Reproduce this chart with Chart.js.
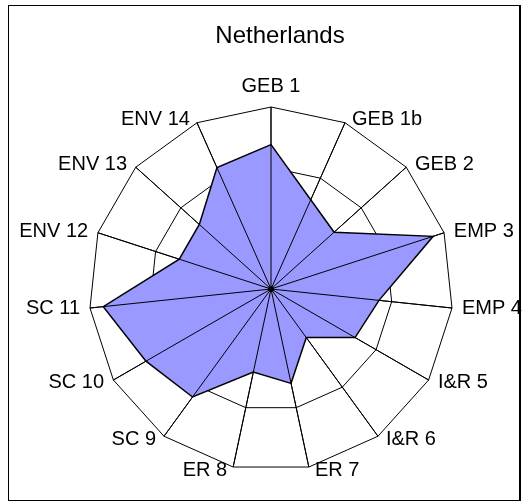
<!DOCTYPE html>
<html>
<head>
<meta charset="utf-8">
<script src="https://cdn.jsdelivr.net/npm/chart.js@4.4.0/dist/chart.umd.min.js"></script>
<style>
  html, body { margin: 0; padding: 0; background: #fff; }
  #wrap { position: relative; width: 522px; height: 503px; overflow: hidden; }
  #c { position: absolute; left: 0; top: 0; }
  #frame { position: absolute; left: 8px; top: 5px; width: 513px; height: 496px; box-sizing: border-box;
           border: 1px solid #000; border-right-width: 2px; pointer-events: none; }
</style>
</head>
<body>
<div id="wrap">
  <canvas id="c" width="522" height="503"></canvas>
  <div id="frame"></div>
</div>
<script>
const chartTitle = 'Netherlands';
const categories = ['GEB 1', 'GEB 1b', 'GEB 2', 'EMP 3', 'EMP 4', 'I&R 5', 'I&R 6', 'ER 7', 'ER 8', 'SC 9', 'SC 10', 'SC 11', 'ENV 12', 'ENV 13', 'ENV 14'];
const seriesValues = [2.38, 1.61, 1.40, 2.81, 1.79, 1.60, 0.99, 1.59, 1.40, 2.20, 2.38, 2.78, 1.59, 1.59, 2.19];
const scaleMin = 0;
const scaleMax = 3;
const scaleStep = 1;

const FONT = '"Liberation Sans", Arial, sans-serif';

const overlayPlugin = {
  id: 'overlay',
  afterLayout(chart) {
    if (chart.titleBlock) { chart.titleBlock.left += 9; chart.titleBlock.right += 9; }
  },
  afterDatasetsDraw(chart) {
    const s = chart.scales.r;
    const ctx = chart.ctx;
    const R = s.drawingArea;
    ctx.save();
    // spokes over the fill
    ctx.strokeStyle = '#000';
    ctx.lineWidth = 1;
    for (let i = 0; i < categories.length; i++) {
      const p = s.getPointPosition(i, R);
      ctx.beginPath();
      ctx.moveTo(s.xCenter, s.yCenter);
      ctx.lineTo(p.x, p.y);
      ctx.stroke();
    }
    ctx.fillStyle = '#000';
    ctx.beginPath();
    ctx.arc(s.xCenter, s.yCenter, 2.8, 0, Math.PI * 2);
    ctx.fill();
    // category labels
    ctx.font = '20px ' + FONT;
    ctx.fillStyle = '#000';
    const n = categories.length;
    for (let i = 0; i < n; i++) {
      const a = i * 2 * Math.PI / n;
      const p = s.getPointPosition(i, R);
      if (i === 0) {
        ctx.textAlign = 'center';
        ctx.textBaseline = 'alphabetic';
        ctx.fillText(categories[i], p.x, p.y - 15);
      } else {
        const gap = 5 + 5 * Math.abs(Math.sin(a));
        const right = Math.sin(a) > 0;
        ctx.textAlign = right ? 'left' : 'right';
        ctx.textBaseline = 'middle';
        ctx.fillText(categories[i], p.x + (right ? gap : -gap), p.y - 4 * Math.cos(a));
      }
    }
    ctx.restore();
  }
};

new Chart(document.getElementById('c'), {
  type: 'radar',
  data: {
    labels: categories,
    datasets: [{
      label: chartTitle,
      data: seriesValues,
      backgroundColor: 'rgb(153,153,255)',
      borderColor: '#000',
      borderWidth: 1.5,
      fill: true,
      pointRadius: 0,
      pointHoverRadius: 0,
      tension: 0
    }]
  },
  options: {
    responsive: false,
    animation: false,
    devicePixelRatio: 1,
    layout: { padding: { left: 88.5, right: 68.5, top: 0, bottom: 31.5 } },
    plugins: {
      legend: { display: false },
      tooltip: { enabled: false },
      title: {
        display: true,
        text: chartTitle,
        color: '#000',
        font: { family: FONT, size: 24, weight: 'normal', lineHeight: 1.2 },
        padding: { top: 21.6, bottom: 56.1 }
      }
    },
    scales: {
      r: {
        min: scaleMin,
        max: scaleMax,
        ticks: { display: false, stepSize: scaleStep },
        grid: { color: '#000', lineWidth: 1, circular: false },
        angleLines: { display: true, color: '#000', lineWidth: 1 },
        pointLabels: { display: false }
      }
    }
  },
  plugins: [overlayPlugin]
});
</script>
</body>
</html>
